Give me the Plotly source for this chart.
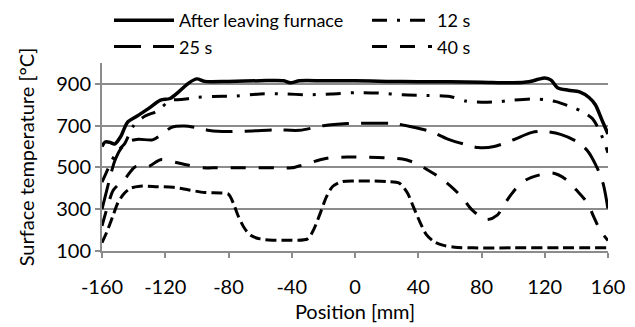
import plotly.graph_objects as go

# ---------------- data ----------------
x_furnace = [-160, -158, -155, -152, -148, -144, -138, -130, -123, -117, -111, -105, -100, -95,
             -80, -60, -45, -41, -35, -20, 0, 20, 40, 60, 80, 100, 110, 116, 120, 124, 128,
             135, 142, 148, 152, 156, 160]
y_furnace = [600, 622, 620, 612, 650, 715, 745, 785, 822, 830, 865, 905, 924, 912,
             912, 915, 915, 905, 915, 915, 915, 912, 910, 910, 908, 905, 910, 922, 928, 918, 882,
             870, 862, 835, 800, 730, 660]

x_12s = [-160, -157, -154, -150, -146, -140, -133, -125, -117, -110, -100, -90, -75, -60, -45,
         -30, -15, 0, 15, 30, 45, 60, 70, 80, 90, 100, 112, 120, 127, 135, 143, 150, 155, 160]
y_12s = [430, 480, 530, 580, 610, 700, 745, 770, 820, 825, 835, 840, 842, 852, 852,
         848, 852, 858, 856, 848, 845, 840, 818, 812, 814, 822, 828, 825, 815, 795, 770, 735, 670, 570]

x_25s = [-160, -158, -155, -152, -148, -143, -137, -128, -122, -116, -108, -100, -92, -80, -65,
         -50, -35, -20, -5, 10, 25, 35, 48, 60, 70, 78, 88, 100, 112, 120, 130, 140, 147, 153,
         157, 160]
y_25s = [300, 360, 450, 530, 590, 625, 635, 632, 660, 692, 698, 690, 677, 672, 675,
         680, 678, 700, 710, 712, 710, 696, 672, 632, 610, 595, 600, 632, 668, 672, 658, 625, 580, 500,
         420, 300]

x_40s = [-160, -157, -153, -150, -146, -139, -131, -123, -115, -106, -96, -90, -75, -64, -50,
         -40, -33, -22, -16, -5, 5, 20, 30, 38, 46, 54, 62, 68, 74, 83, 90, 95, 101, 108,
         117, 125, 134, 140, 147, 151, 155, 160]
y_40s = [220, 300, 390, 415, 440, 503, 503, 537, 527, 512, 498, 498, 498, 498, 498,
         498, 512, 537, 546, 550, 550, 546, 540, 522, 488, 450, 400, 355, 297, 250, 272, 330, 392, 440,
         465, 473, 440, 392, 330, 263, 200, 150]

x_60s = [-160, -157, -153, -150, -146, -142, -136, -125, -115, -105, -95, -85, -80, -77, -74,
         -70, -66, -60, -52, -40, -30, -26, -22, -18, -14, -8, 0, 10, 20, 28, 33, 37, 41, 45,
         50, 56, 63, 75, 100, 130, 160]
y_60s = [140, 190, 270, 330, 375, 400, 410, 408, 405, 392, 380, 378, 372, 330, 270,
         210, 175, 158, 152, 152, 158, 205, 280, 360, 410, 432, 435, 435, 432, 425, 380, 310, 240, 180,
         145, 127, 118, 115, 115, 115, 115]

x_ticks = [-160, -120, -80, -40, 0, 40, 80, 120, 160]
y_ticks = [100, 300, 500, 700, 900]

FONT = "Lato"
GRID = "#8c8c8c"
L, R, T, B = 102, 27, 63, 76
PW, PH = 635 - L - R, 327 - T - B

fig = go.Figure()

def add(x, y, name, dash, legend, show=True, width=3):
    fig.add_trace(go.Scatter(
        x=x, y=y, name=name, mode="lines",
        line=dict(color="black", width=width, dash=dash, shape="spline", smoothing=0.8),
        legend=legend, showlegend=show))

add(x_furnace, y_furnace, "After leaving furnace", "solid", "legend", width=3.5)
add(x_12s, y_12s, "12 s", "15px,10px,3px,10px", "legend2")
add(x_25s, y_25s, "25 s", "27px,12px", "legend")
add(x_40s, y_40s, "40 s", "15px,13px", "legend2")
add(x_60s, y_60s, "60 s", "11px,5px", "legend", show=False)

legend_common = dict(
    orientation="v", xref="paper", yref="paper", xanchor="left", yanchor="top",
    font=dict(family=FONT, size=18, color="black"),
    bgcolor="rgba(0,0,0,0)", itemwidth=60, tracegroupgap=0,
)

fig.update_layout(
    width=635, height=327,
    margin=dict(l=L, r=R, t=T, b=B, autoexpand=False),
    paper_bgcolor="white", plot_bgcolor="white",
    font=dict(family=FONT, size=18, color="black"),
    legend=dict(x=(109 - L) / PW, y=(327 - B - 2) / PH, **legend_common),
    legend2=dict(x=(367 - L) / PW, y=(327 - B - 2) / PH, **legend_common),
    xaxis=dict(
        range=[-160, 160], tickvals=x_ticks, ticktext=[str(v) for v in x_ticks],
        showgrid=False, zeroline=False, showline=True, linecolor=GRID, linewidth=2,
        ticks="outside", ticklen=5, tickwidth=2, tickcolor=GRID, ticklabelstandoff=12,
        tickfont=dict(family=FONT, size=20, color="black"),
        title=dict(text="Position [mm]", font=dict(family=FONT, size=20, color="black"), standoff=8),
    ),
    yaxis=dict(
        range=[100, 1000], tickvals=y_ticks, ticktext=[str(v) for v in y_ticks],
        showgrid=True, gridcolor=GRID, gridwidth=2, zeroline=False,
        showline=True, linecolor=GRID, linewidth=2,
        ticks="outside", ticklen=5, tickwidth=2, tickcolor=GRID,
        tickfont=dict(family=FONT, size=20, color="black"),
        title=dict(text="Surface temperature [°C]", font=dict(family=FONT, size=20, color="black"), standoff=16),
    ),
)

fig.write_html("out.html")
